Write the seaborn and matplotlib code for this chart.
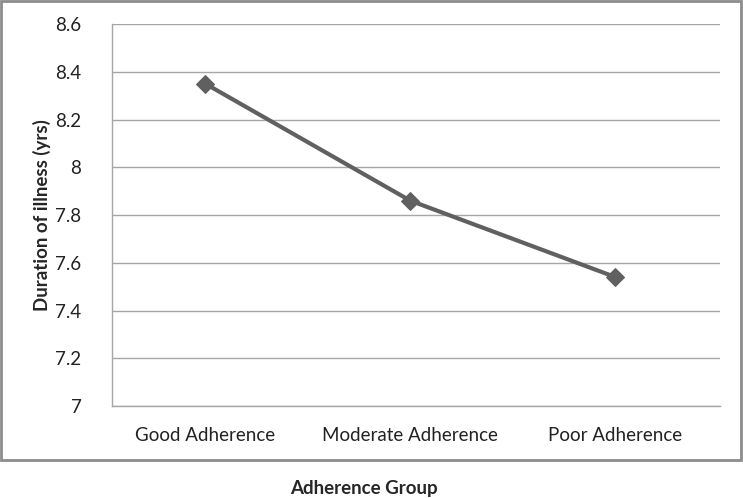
import matplotlib
matplotlib.use("Agg")
import matplotlib.pyplot as plt
import seaborn as sns
import pandas as pd
from matplotlib.patches import Rectangle

groups = ["Good Adherence", "Moderate Adherence", "Poor Adherence"]
duration = [8.35, 7.86, 7.54]
yticks = [7, 7.2, 7.4, 7.6, 7.8, 8, 8.2, 8.4, 8.6]
ytick_labels = ["7", "7.2", "7.4", "7.6", "7.8", "8", "8.2", "8.4", "8.6"]

sns.set_style("white")
plt.rcParams['font.family'] = ['Lato', 'DejaVu Sans']

df = pd.DataFrame({"group": groups, "duration": duration})

fig = plt.figure(figsize=(7.43, 4.98), dpi=100)
ax = fig.add_axes([0.1507, 0.1847, 0.8183, 0.7671])

sns.lineplot(data=df, x="group", y="duration", ax=ax, sort=False,
             color="#606060", linewidth=3, marker="D", markersize=9,
             markeredgecolor="#606060")

ax.set_ylim(7, 8.6)
ax.set_xlim(-0.455, 2.51)
ax.set_yticks(yticks)
ax.set_yticklabels(ytick_labels)
ax.grid(axis="y", color="#a6a6a6", linewidth=1)
ax.set_axisbelow(True)
for s in ["top", "right"]:
    ax.spines[s].set_visible(False)
for s in ["left", "bottom"]:
    ax.spines[s].set_color("#a6a6a6")
    ax.spines[s].set_linewidth(1)
ax.tick_params(axis="y", length=0, pad=22, labelsize=13.5, labelcolor="#222222")
ax.tick_params(axis="x", length=0, pad=15, labelsize=13.5, labelcolor="#222222")
ax.set_xlabel("")
ax.set_ylabel("Duration of illness (yrs)", fontsize=13.5, fontweight="bold", labelpad=3)

fig.text(0.49, 0.003, "Adherence Group", ha="center", va="bottom",
         fontsize=13.5, fontweight="bold")

frame = Rectangle((0.002, 0.076), 0.995, 0.921, transform=fig.transFigure,
                  fill=False, edgecolor="#8c8c8c", linewidth=2)
fig.patches.append(frame)

fig.savefig("out.png", dpi=100)
